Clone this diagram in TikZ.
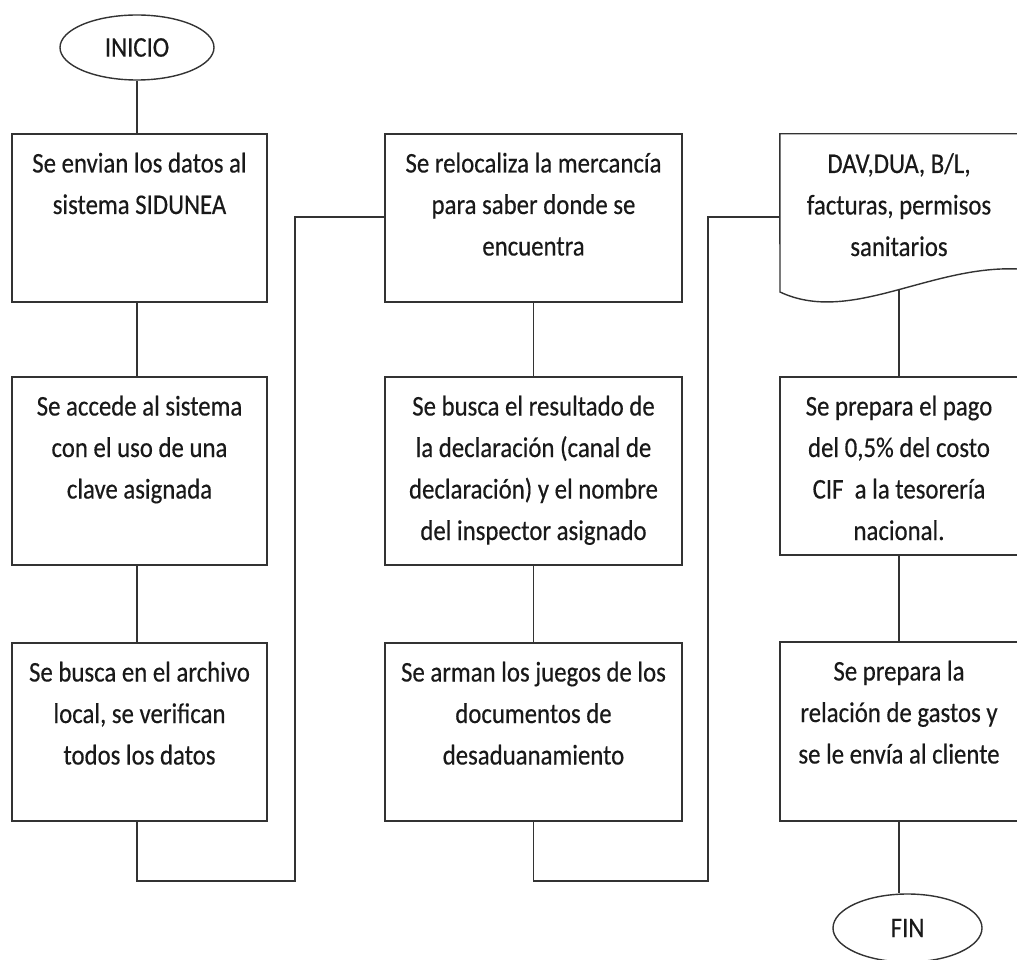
\documentclass[tikz,border=0pt]{standalone}
\usepackage{fontspec}
\setmainfont{Carlito}[FakeStretch=0.87,FakeBold=0.4]
\usetikzlibrary{shapes.geometric,calc}
\begin{document}
\begin{tikzpicture}[x=1pt,y=-1pt,
  ln/.style={line width=1.4pt, draw=black!80},
  box/.style={ln, rectangle, inner sep=0pt},
  txt/.style={inner sep=0pt, anchor=north, align=flush center, text width=250pt,
    font=\fontsize{28.5}{41.5}\selectfont, text=black!90},
  term/.style={ln, ellipse, inner sep=0pt, font=\fontsize{28.5}{30}\selectfont, text=black!90}]
\useasboundingbox (0,0) rectangle (1017,960);

% terminals
\node[term, minimum width=154pt, minimum height=65pt] (ini) at (137,47.5) {INICIO};
\node[term, minimum width=149pt, minimum height=68pt] (fin) at (907.5,928) {FIN};

% column 1
\node[box, minimum width=255pt, minimum height=168pt] (b1) at (139.5,218) {};
\node[box, minimum width=255pt, minimum height=188pt] (b2) at (139.5,471) {};
\node[box, minimum width=255pt, minimum height=178pt] (b3) at (139.5,732) {};
% column 2
\node[box, minimum width=297pt, minimum height=168pt] (b4) at (533.5,218) {};
\node[box, minimum width=297pt, minimum height=188pt] (b5) at (533.5,471) {};
\node[box, minimum width=297pt, minimum height=178pt] (b6) at (533.5,732) {};
% column 3
\node[inner sep=0pt, minimum width=238pt, minimum height=158pt] (doc) at (899,213) {};
\node[box, minimum width=238pt, minimum height=178pt] (b8) at (899,466) {};
\node[box, minimum width=238pt, minimum height=179pt] (b9) at (899,731.5) {};

\draw[ln] (doc.north west) -- (doc.north east) -- (1018,269)
  .. controls (930,265) and (850,325) .. (780,292) -- cycle;
\coordinate (docb) at (899,290);

% texts
\node[txt] (t1) at ($(b1.north)+(0,9)$) {\rule{0pt}{30pt}Se envian los datos al\\sistema SIDUNEA};
\node[txt] (t2) at ($(b2.north)+(0,9)$) {\rule{0pt}{30pt}Se accede al sistema\\con el uso de una\\clave asignada};
\node[txt] (t3) at ($(b3.north)+(0,9)$) {\rule{0pt}{30pt}Se busca en el archivo\\local, se verifican\\todos los datos};
\node[txt, text width=290pt] (t4) at ($(b4.north)+(0,9)$) {\rule{0pt}{30pt}Se relocaliza la mercancía\\para saber donde se\\encuentra};
\node[txt, text width=290pt] (t5) at ($(b5.north)+(0,9)$) {\rule{0pt}{30pt}Se busca el resultado de\\la declaración (canal de\\declaración) y el nombre\\del inspector asignado};
\node[txt, text width=290pt] (t6) at ($(b6.north)+(0,9)$) {\rule{0pt}{30pt}Se arman los juegos de los\\documentos de\\desaduanamiento};
\node[txt, text width=236pt] (t7) at ($(doc.north)+(0,9)$) {\rule{0pt}{30pt}DAV,DUA, B/L,\\facturas, permisos\\sanitarios};
\node[txt, text width=236pt] (t8) at ($(b8.north)+(0,9)$) {\rule{0pt}{30pt}Se prepara el pago\\del 0,5\% del costo\\CIF\ \ a la tesorería\\nacional.};
\node[txt, text width=236pt] (t9) at ($(b9.north)+(0,9)$) {\rule{0pt}{30pt}Se prepara la\\relación de gastos y\\se le envía al cliente};

% connectors
\draw[ln] (ini.south) -- (ini.south |- b1.north);
\draw[ln] (b1.south -| ini.south) -- (b2.north -| ini.south);
\draw[ln] (b2.south -| ini.south) -- (b3.north -| ini.south);
\coordinate (r1) at (295,881);
\coordinate (j1) at (295,217);
\draw[ln] (b3.south -| ini.south) |- (r1) -- (j1) -- (j1 -| b4.west);
\draw[ln] (b4.south) -- (b5.north);
\draw[ln] (b5.south) -- (b6.north);
\coordinate (r2) at (708,881);
\coordinate (j2) at (708,217);
\draw[ln] (b6.south) |- (r2) -- (j2) -- (j2 -| doc.west);
\draw[ln] (docb) -- (b8.north);
\draw[ln] (b8.south) -- (b9.north);
\draw[ln] (b9.south) -- (b9.south |- fin.north);
\end{tikzpicture}
\end{document}
